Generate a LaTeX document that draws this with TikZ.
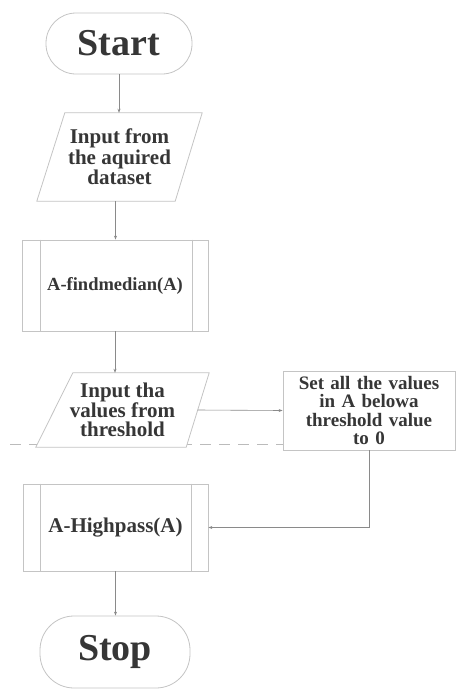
\documentclass[tikz,border=0pt]{standalone}
\usepackage{fontspec}
\setmainfont{Liberation Serif}
\usetikzlibrary{arrows.meta,calc,backgrounds}
\definecolor{txt}{HTML}{363636}
\definecolor{edgec}{HTML}{C4C4C4}
\definecolor{connc}{HTML}{8A8A8A}
\definecolor{dashc}{HTML}{BBBBBB}
\begin{document}
\begin{tikzpicture}[x=1pt,y=-1pt,
  term/.style={draw=edgec, line width=0.8pt, fill=white, text=txt, inner sep=0pt,
     font=\fontsize{38}{40}\selectfont\bfseries},
  iotext/.style={inner sep=0pt, text=txt, align=center},
  subproc/.style={draw=edgec, line width=0.8pt, text=txt, inner sep=0pt},
  boxc/.style={draw=edgec, line width=0.8pt, fill=white, text=txt, inner sep=0pt, align=center,
     font=\fontsize{19}{18.5}\selectfont\bfseries},
  link/.style={draw=connc, line width=0.6pt, -{Stealth[length=4pt,width=3pt]}},
  dashline/.style={draw=dashc, line width=0.8pt, dash pattern=on 11pt off 8pt}
]
\useasboundingbox (0,0) rectangle (456,691);

% Terminals
\node[term, rounded corners=30pt, minimum width=146pt, minimum height=61pt] (start) at (119,43.5) {Start};
\node[term, rounded corners=34pt, minimum width=150pt, minimum height=72pt] (stop) at (115,652) {Stop};

% Input 1 (parallelogram)
\node[iotext, font=\fontsize{21}{20.5}\selectfont\bfseries, minimum width=165pt, minimum height=88pt] (in1) at (119.5,157) {Input from\\the aquired\\dataset};

% findmedian subprocess
\node[subproc, minimum width=186pt, minimum height=91pt, font=\fontsize{18.5}{20}\selectfont\bfseries] (fm) at (115,285.5) {A-findmedian(A)};
\draw[draw=edgec, line width=0.8pt] ([xshift=19pt]fm.north west) -- ([xshift=19pt]fm.south west)
  ([xshift=-16pt]fm.north east) -- ([xshift=-16pt]fm.south east);

% Input 2 (parallelogram)
\node[iotext, font=\fontsize{21}{19.5}\selectfont\bfseries, minimum width=173pt, minimum height=74pt] (in2) at (122.5,410) {Input tha\\values from\\threshold};

% Set box
\node[boxc, minimum width=172pt, minimum height=79pt, text width=168pt] (set) at (369,410.5) {Set all the values\\in A belowa\\threshold value\\to 0};

% Highpass subprocess
\node[subproc, minimum width=185pt, minimum height=87pt, font=\fontsize{21}{24}\selectfont\bfseries] (hp) at (115.5,527.5) {A-Highpass(A)};
\draw[draw=edgec, line width=0.8pt] ([xshift=18pt]hp.north west) -- ([xshift=18pt]hp.south west)
  ([xshift=-17pt]hp.north east) -- ([xshift=-17pt]hp.south east);

\begin{scope}[on background layer]
  \draw[dashline] (10,444) -- (283,444);
  \draw[draw=edgec, line width=0.8pt, fill=white]
    (in1.south west) -- ([xshift=-27pt]in1.south east) -- (in1.north east) -- ([xshift=28pt]in1.north west) -- cycle;
  \draw[draw=edgec, line width=0.8pt, fill=white]
    (in2.south west) -- ([xshift=-23pt]in2.south east) -- (in2.north east) -- ([xshift=37pt]in2.north west) -- cycle;
\end{scope}

% Connectors
\draw[link] (start.south) -- (start.south |- in1.north);
\draw[link] ([xshift=-4pt]in1.south) -- ([xshift=-4pt]in1.south |- fm.north);
\draw[link] (fm.south) -- (fm.south |- in2.north);
\draw[link] ([xshift=-11.5pt]in2.east) -- (set.west);
\draw[link] (set.south) |- (hp.east);
\draw[link] (hp.south) -- (hp.south |- stop.north);
\end{tikzpicture}
\end{document}
